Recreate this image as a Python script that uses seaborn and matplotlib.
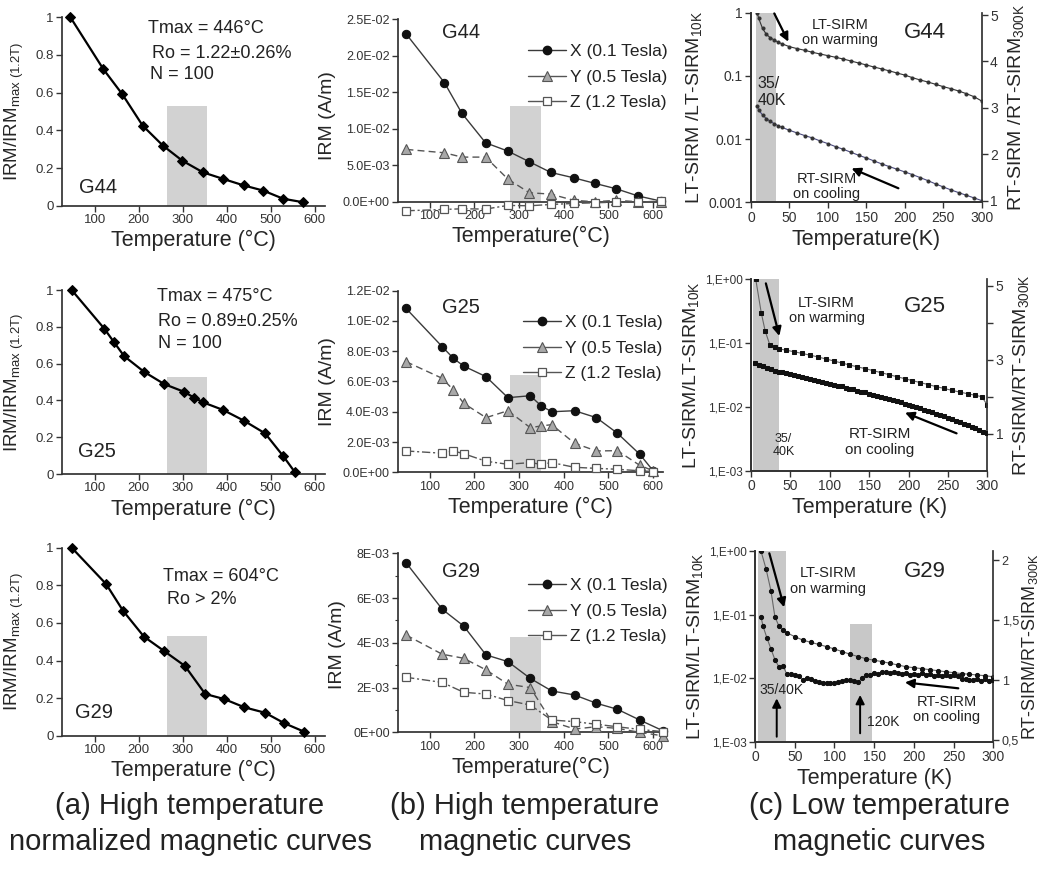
import numpy as np
import matplotlib
matplotlib.use("Agg")
import matplotlib.pyplot as plt
from matplotlib.lines import Line2D
import seaborn as sns

# ---------------- data ----------------
# column (a): normalized IRM vs temperature
g44_a_t = [45, 120, 163, 209, 255, 299, 346, 392, 438, 483, 528, 574]
g44_a_v = [1.0, 0.724, 0.591, 0.425, 0.319, 0.239, 0.177, 0.142, 0.108, 0.080, 0.037, 0.018]
g25_a_t = [48, 122, 143, 167, 212, 258, 303, 326, 347, 392, 439, 487, 528, 555]
g25_a_v = [1.0, 0.79, 0.72, 0.641, 0.556, 0.489, 0.447, 0.415, 0.389, 0.348, 0.29, 0.221, 0.098, 0.009]
g29_a_t = [48, 126, 165, 212, 258, 305, 351, 394, 440, 487, 531, 576]
g29_a_v = [1.0, 0.807, 0.663, 0.527, 0.45, 0.371, 0.222, 0.195, 0.151, 0.122, 0.066, 0.021]

# column (b): IRM components (A/m)
g44_b_t = [48, 133, 172, 225, 275, 323, 371, 422, 470, 517, 567, 617]
g44_bx = [0.0229, 0.01629, 0.0121, 0.00807, 0.00693, 0.00547, 0.00401, 0.00328, 0.00251, 0.00178, 0.00078, 0.0001]
g44_by = [0.00716, 0.0067, 0.00611, 0.00611, 0.0031, 0.00123, 0.00105, 0.0002, 0.0000, 0.0002, 0.0, 0.0]
g44_bz = [-0.00123, -0.00105, -0.00096, -0.001, -0.0005, -0.00055, -0.00037, -0.00023, -0.00014, -0.00005, -0.00005, 0.0001]

g25_b_t = [47, 128, 153, 176, 226, 275, 325, 349, 373, 424, 473, 520, 570, 600]
g25_bx = [0.01083, 0.0083, 0.00753, 0.00702, 0.00632, 0.00493, 0.00506, 0.0044, 0.004, 0.00407, 0.00361, 0.00258, 0.00119, 0.0001]
g25_by = [0.00731, 0.00621, 0.00544, 0.00456, 0.00361, 0.00407, 0.00295, 0.00306, 0.00315, 0.00192, 0.00141, 0.00143, 0.00046, 0.0001]
g25_bz = [0.00141, 0.00126, 0.00141, 0.00123, 0.00073, 0.00053, 0.00064, 0.00053, 0.00064, 0.00033, 0.00026, 0.0002, 0.0001, 0.00005]

g29_b_t = [47, 128, 176, 226, 275, 325, 373, 424, 473, 520, 570, 623]
g29_bx = [0.00758, 0.0055, 0.00475, 0.00346, 0.00316, 0.00241, 0.00185, 0.00167, 0.0013, 0.00103, 0.00055, 0.00006]
g29_by = [0.00435, 0.00349, 0.00331, 0.00279, 0.00215, 0.002, 0.00048, 0.00015, 0.00025, 0.00018, 0.0, -0.00016]
g29_bz = [0.00246, 0.00223, 0.00179, 0.00171, 0.00142, 0.00122, 0.00055, 0.00048, 0.00036, 0.00025, 0.00013, 0.00003]

series_labels = ["X (0.1 Tesla)", "Y (0.5 Tesla)", "Z (1.2 Tesla)"]

# column (c): low temperature curves
g44_lt_t = [8, 10, 15, 20, 25, 30, 35, 40, 50, 60, 70, 80, 90, 100, 110, 120, 130, 140, 150,
            160, 170, 180, 190, 200, 210, 220, 230, 240, 250, 260, 270, 280, 290, 300]
g44_lt = [1.0, 0.814, 0.565, 0.454, 0.403, 0.370, 0.344, 0.323, 0.290, 0.270, 0.254, 0.236,
          0.222, 0.209, 0.197, 0.185, 0.172, 0.160, 0.149, 0.138, 0.129, 0.120, 0.111, 0.103,
          0.0938, 0.0861, 0.0801, 0.0736, 0.0676, 0.0628, 0.0577, 0.0524, 0.0469, 0.0401]
g44_rt = [3.043, 2.957, 2.849, 2.771, 2.713, 2.663, 2.620, 2.584, 2.520, 2.462, 2.405, 2.355,
          2.290, 2.233, 2.168, 2.111, 2.047, 1.982, 1.925, 1.860, 1.796, 1.738, 1.681, 1.624,
          1.566, 1.502, 1.437, 1.366, 1.301, 1.237, 1.179, 1.122, 1.065, 1.007]

g25_lt_t = [6, 13, 18, 24, 30, 36, 45, 55, 65, 75, 85, 95, 105, 115, 125, 135, 145, 155, 165,
            175, 185, 195, 205, 215, 225, 235, 245, 255, 265, 275, 285, 293, 300]
g25_lt = [1.0, 0.298, 0.154, 0.093, 0.0877, 0.0806, 0.0770, 0.0728, 0.0686, 0.0645, 0.0605,
          0.0563, 0.0524, 0.0487, 0.0453, 0.0424, 0.0397, 0.0370, 0.0344, 0.0320, 0.0298,
          0.0277, 0.0258, 0.0240, 0.0224, 0.0208, 0.0195, 0.0182, 0.0171, 0.0161, 0.0152,
          0.0145, 0.0107]
g25_rt_t = [5, 10, 15, 20, 25, 30, 35, 40, 45, 50, 55, 60, 65, 70, 75, 80, 85, 90, 95, 100,
            105, 110, 115, 120, 125, 130, 135, 140, 145, 150, 155, 160, 165, 170, 175, 180,
            185, 190, 195, 200, 205, 210, 215, 220, 225, 230, 235, 240, 245, 250, 255, 260,
            265, 270, 275, 280, 285, 290, 295, 300]
g25_rt = [2.92, 2.86, 2.82, 2.78, 2.74, 2.71, 2.68, 2.66, 2.63, 2.61, 2.58, 2.56, 2.53, 2.51,
          2.48, 2.46, 2.43, 2.41, 2.38, 2.36, 2.33, 2.30, 2.28, 2.25, 2.22, 2.20, 2.17, 2.14,
          2.12, 2.09, 2.06, 2.03, 2.00, 1.97, 1.94, 1.91, 1.88, 1.85, 1.82, 1.79, 1.76, 1.72,
          1.69, 1.65, 1.62, 1.58, 1.55, 1.51, 1.47, 1.43, 1.39, 1.35, 1.31, 1.27, 1.23, 1.19,
          1.15, 1.10, 1.06, 1.02]

g29_lt_t = [7.5, 14, 20, 25, 30, 35, 40, 50, 60, 70, 80, 90, 100, 110, 120, 130, 140, 150,
            160, 170, 180, 190, 200, 210, 220, 230, 240, 250, 260, 270, 280, 290, 300]
g29_lt = [1.0, 0.515, 0.238, 0.0927, 0.0661, 0.0572, 0.0519, 0.0449, 0.0398, 0.0366, 0.0340,
          0.0313, 0.0287, 0.0261, 0.0237, 0.0218, 0.0202, 0.0191, 0.0182, 0.0171, 0.0161,
          0.0151, 0.0146, 0.0141, 0.0136, 0.0131, 0.0126, 0.0122, 0.0118, 0.0115, 0.0112,
          0.0109, 0.0105]
g29_rt_t = [7.5, 10, 15, 20, 25, 30, 35, 40, 45, 50, 55, 60, 65, 70, 75, 80, 85, 90, 95, 100,
            105, 110, 115, 120, 125, 130, 135, 140, 145, 150, 155, 160, 165, 170, 175, 180,
            185, 190, 195, 200, 205, 210, 215, 220, 225, 230, 235, 240, 245, 250, 255, 260,
            265, 270, 275, 280, 285, 290, 295, 300]
g29_rt = [1.528, 1.45, 1.35, 1.26, 1.17, 1.11, 1.12, 1.05, 1.05, 1.04, 1.03, 1.00, 1.02, 1.01,
          0.99, 0.98, 0.975, 0.975, 0.975, 0.975, 0.98, 0.99, 1.00, 1.00, 0.99, 0.98, 1.02,
          1.04, 1.04, 1.06, 1.05, 1.07, 1.065, 1.055, 1.07, 1.06, 1.05, 1.06, 1.045, 1.05,
          1.04, 1.055, 1.04, 1.05, 1.035, 1.045, 1.03, 1.045, 1.03, 1.04, 1.03, 1.01, 1.005,
          1.00, 1.00, 1.01, 0.995, 1.005, 0.995, 1.00]

# tick labels
a_yticks = [0, 0.2, 0.4, 0.6, 0.8, 1.0]
a_ylabels = ["0", "0.2", "0.4", "0.6", "0.8", "1"]
hi_xticks = [100, 200, 300, 400, 500, 600]
g44_b_yticks = [0, 0.005, 0.01, 0.015, 0.02, 0.025]
g44_b_ylabels = ["0.0E+00", "5.0E-03", "1.0E-02", "1.5E-02", "2.0E-02", "2.5E-02"]
g25_b_yticks = [0, 0.002, 0.004, 0.006, 0.008, 0.010, 0.012]
g25_b_ylabels = ["0.0E+00", "2.0E-03", "4.0E-03", "6.0E-03", "8.0E-03", "1.0E-02", "1.2E-02"]
g29_b_yticks = [0, 0.002, 0.004, 0.006, 0.008]
g29_b_ylabels = ["0E+00", "2E-03", "4E-03", "6E-03", "8E-03"]
lt_xticks = [0, 50, 100, 150, 200, 250, 300]
log_ticks = [0.001, 0.01, 0.1, 1]
g44_log_labels = ["0.001", "0.01", "0.1", "1"]
comma_log_labels = ["1,E-03", "1,E-02", "1,E-01", "1,E+00"]

# ---------------- style ----------------
sns.set_theme(style="ticks")
plt.rcParams["font.family"] = ["Liberation Sans", "DejaVu Sans"]
plt.rcParams["mathtext.fontset"] = "custom"
plt.rcParams["mathtext.rm"] = "Liberation Sans"
plt.rcParams["axes.edgecolor"] = "#333333"
plt.rcParams["xtick.color"] = "#333333"
plt.rcParams["ytick.color"] = "#333333"
plt.rcParams["text.color"] = "#222222"

BAND = "#d2d2d2"
fig = plt.figure(figsize=(10.41, 8.69), dpi=100)


def base_ticks(ax, size=9.5):
    ax.tick_params(axis="both", direction="out", length=4, width=1, labelsize=size, pad=2)


# ---------------- column (a) ----------------
col_a = [
    ([0.0596, 0.7633, 0.2526, 0.2168], g44_a_t, g44_a_v, "G44",
     [("Tmax = 446°C", 0.327, 0.943), ("Ro = 1.22±0.26%", 0.342, 0.810), ("N = 100", 0.335, 0.694)],
     (0.065, 0.094)),
    ([0.0596, 0.4545, 0.2526, 0.2117], g25_a_t, g25_a_v, "G25",
     [("Tmax = 475°C", 0.361, 0.964), ("Ro = 0.89±0.25%", 0.365, 0.828), ("N = 100", 0.365, 0.712)],
     (0.061, 0.121)),
    ([0.0596, 0.1534, 0.2526, 0.2163], g29_a_t, g29_a_v, "G29",
     [("Tmax = 604°C", 0.384, 0.849), ("Ro > 2%", 0.399, 0.722)],
     (0.049, 0.121)),
]
for rect, t, v, name, notes, gpos in col_a:
    ax = fig.add_axes(rect)
    ax.axvspan(265, 355, ymin=0, ymax=0.53, color=BAND, lw=0, zorder=0)
    sns.lineplot(x=t, y=v, ax=ax, color="black", lw=1.6, marker="D", markersize=5,
                 markeredgecolor="black", sort=False, estimator=None, clip_on=False, zorder=3)
    ax.set_xlim(26, 623)
    ax.set_ylim(0, 1)
    ax.set_xticks(hi_xticks)
    ax.set_yticks(a_yticks, a_ylabels)
    sns.despine(ax=ax)
    base_ticks(ax)
    ax.set_xlabel("Temperature (°C)", fontsize=15.5, labelpad=3)
    ax.set_ylabel(r"IRM/IRM$_{\mathregular{max\ (1.2T)}}$", fontsize=13.5, labelpad=7)
    for txt, x, y in notes:
        ax.text(x, y, txt, transform=ax.transAxes, fontsize=13, ha="left", va="center")
    ax.text(gpos[0], gpos[1], name, transform=ax.transAxes, fontsize=14.5, ha="left", va="center")

# ---------------- column (b) ----------------
x_style = dict(color="#3a3a3a", lw=1.0, marker="o", markersize=6,
               markerfacecolor="#111111", markeredgecolor="#111111")
y_style = dict(color="#555555", lw=1.0, marker="^", markersize=6.5,
               markerfacecolor="#a8a8a8", markeredgecolor="#555555", markeredgewidth=0.8)
z_style = dict(color="#555555", lw=1.0, marker="s", markersize=6,
               markerfacecolor="white", markeredgecolor="#555555", markeredgewidth=0.9)
legend_handles = [Line2D([], [], **x_style), Line2D([], [], **y_style), Line2D([], [], **z_style)]

col_b = [
    ([0.3823, 0.7552, 0.2546, 0.2229], g44_b_t, g44_bx, g44_by, g44_bz, "G44",
     (-0.0015, 0.025), g44_b_yticks, g44_b_ylabels, 0.0131, (0.49, 0.871), "Temperature(°C)", 0.928),
    ([0.3823, 0.4565, 0.2546, 0.2090], g25_b_t, g25_bx, g25_by, g25_bz, "G25",
     (0, 0.012), g25_b_yticks, g25_b_ylabels, 0.0064, (0.472, 0.866), "Temperature (°C)", 0.905),
    ([0.3823, 0.1521, 0.2546, 0.2112], g29_b_t, g29_bx, g29_by, g29_bz, "G29",
     (-0.0002, 0.008), g29_b_yticks, g29_b_ylabels, 0.00427, (0.49, 0.865), "Temperature(°C)", 0.90),
]
for rect, t, bx, by, bz, name, ylim, yt, yl, band_top, leg_pos, xlab, gy in col_b:
    ax = fig.add_axes(rect)
    ax.fill_between([280, 350], 0, band_top, color=BAND, lw=0, zorder=0)
    sns.lineplot(x=t, y=bx, ax=ax, sort=False, estimator=None, clip_on=False, zorder=3, **x_style)
    sns.lineplot(x=t, y=by, ax=ax, linestyle=(0, (5, 3)), sort=False, estimator=None,
                 clip_on=False, zorder=3, **y_style)
    sns.lineplot(x=t, y=bz, ax=ax, linestyle=(0, (6, 2, 1.5, 2)), sort=False, estimator=None,
                 clip_on=False, zorder=3, **z_style)
    ax.set_xlim(29, 622)
    ax.set_ylim(*ylim)
    ax.set_xticks(hi_xticks)
    ax.set_yticks(yt, yl)
    if name == "G29":
        ax.set_yticks([0.001, 0.003, 0.005, 0.007], minor=True)
        ax.tick_params(axis="y", which="minor", length=2.5, width=0.8)
    sns.despine(ax=ax)
    ax.spines["bottom"].set_position(("data", 0))
    ax.spines["left"].set_bounds(0, ylim[1])
    base_ticks(ax, 9)
    ax.set_xlabel(xlab, fontsize=15.5, labelpad=3)
    ax.set_ylabel("IRM (A/m)", fontsize=14, labelpad=5)
    ax.text(0.166, gy, name, transform=ax.transAxes, fontsize=14.5, ha="left", va="center")
    ax.legend(legend_handles, series_labels, loc="upper left", bbox_to_anchor=leg_pos,
              frameon=False, fontsize=12.5, handlelength=2.2, handletextpad=0.2,
              labelspacing=0.6, borderpad=0, borderaxespad=0)


# ---------------- column (c) ----------------
def arrow(ax, tail, head, lw=1.6):
    ax.annotate("", xy=head, xytext=tail, xycoords="axes fraction", textcoords="axes fraction",
                arrowprops=dict(arrowstyle="-|>", color="black", lw=lw, mutation_scale=13,
                                shrinkA=0, shrinkB=0))


def low_panel(rect, band, lt_t, lt, rt_t, rt, rlim, rticks, rlabels, rminor, loglabels,
              loglabsize, xlab, lsep, style, rsize=10, rfont=14, rpad=6):
    ax = fig.add_axes(rect)
    ax.axvspan(band[0], band[1], color="#c8c8c8", lw=0, zorder=0)
    sns.lineplot(x=lt_t, y=lt, ax=ax, color=style["lc"], lw=0.8, marker=style["m"],
                 markersize=style["ms"], markerfacecolor=style["mc"],
                 markeredgecolor=style["mc"], sort=False, estimator=None, zorder=3)
    ax.set_yscale("log")
    ax.set_ylim(0.001, 1)
    ax.set_xlim(0, 300)
    ax.set_xticks(lt_xticks)
    ax.set_yticks(log_ticks, loglabels)
    ax.yaxis.set_minor_locator(matplotlib.ticker.NullLocator())
    tw = ax.twinx()
    sns.lineplot(x=rt_t, y=rt, ax=tw, color=style["rc"], lw=0.8, marker=style["m"],
                 markersize=style["ms"], markerfacecolor=style["mc"],
                 markeredgecolor=style["mc"], sort=False, estimator=None, zorder=3)
    tw.set_ylim(*rlim)
    tw.set_yticks(rticks, rlabels)
    if rminor:
        tw.set_yticks(rminor, minor=True)
        tw.tick_params(axis="y", which="minor", length=4, width=1, direction="out")
    for a in (ax, tw):
        a.spines["top"].set_visible(False)
    ax.spines["right"].set_visible(False)
    base_ticks(ax, 10)
    ax.tick_params(axis="y", labelsize=loglabsize)
    tw.tick_params(axis="y", direction="out", length=4, width=1, labelsize=rsize, pad=2)
    ax.set_xlabel(xlab, fontsize=15.5, labelpad=3)
    ax.set_ylabel("LT-SIRM%s/LT-SIRM$_{\\mathregular{10K}}$" % lsep, fontsize=14, labelpad=2)
    tw.set_ylabel("RT-SIRM%s/RT-SIRM$_{\\mathregular{300K}}$" % lsep, fontsize=rfont,
                  labelpad=rpad)
    return ax, tw


# G44
ax, tw = low_panel([0.7214, 0.7672, 0.2216, 0.2182], (6.5, 32), g44_lt_t, g44_lt, g44_lt_t,
                   g44_rt, (0.97, 5.05), [1, 2, 3, 4, 5], ["1", "2", "3", "4", "5"], None,
                   g44_log_labels, 10, "Temperature(K)", " ",
                   dict(lc="#333333", rc="#4b4b7d", m="o", ms=2.2, mc="#333333"))
tw.text(0.386, 0.895, "LT-SIRM\non warming", transform=tw.transAxes, fontsize=10.5,
        ha="center", va="center", linespacing=1.1)
tw.text(0.754, 0.894, "G44", transform=tw.transAxes, fontsize=16, ha="center", va="center")
tw.text(0.029, 0.583, "35/\n40K", transform=tw.transAxes, fontsize=11.5, ha="left",
        va="center", linespacing=1.15)
tw.text(0.328, 0.081, "RT-SIRM\non cooling", transform=tw.transAxes, fontsize=10.5,
        ha="center", va="center", linespacing=1.1)
arrow(tw, (0.101, 0.996), (0.162, 0.847))
arrow(tw, (0.639, 0.074), (0.436, 0.179))

# G25
ax, tw = low_panel([0.7214, 0.458, 0.2270, 0.2210], (2, 36), g25_lt_t, g25_lt, g25_rt_t,
                   g25_rt, (0, 5.18), [1, 3, 5], ["1", "3", "5"], [2, 4],
                   comma_log_labels, 8.5, "Temperature (K)", "",
                   dict(lc="#666666", rc="#666666", m="s", ms=3, mc="#111111"))
tw.text(0.32, 0.837, "LT-SIRM\non warming", transform=tw.transAxes, fontsize=10.5,
        ha="center", va="center", linespacing=1.1)
tw.text(0.736, 0.856, "G25", transform=tw.transAxes, fontsize=16, ha="center", va="center")
tw.text(0.137, 0.132, "35/\n40K", transform=tw.transAxes, fontsize=9, ha="center",
        va="center", linespacing=1.15)
tw.text(0.546, 0.151, "RT-SIRM\non cooling", transform=tw.transAxes, fontsize=11,
        ha="center", va="center", linespacing=1.1)
arrow(tw, (0.063, 0.977), (0.12, 0.703))
arrow(tw, (0.87, 0.196), (0.652, 0.304))

# G29
ax, tw = low_panel([0.7253, 0.1465, 0.2289, 0.2194], (4, 38.5), g29_lt_t, g29_lt, g29_rt_t,
                   g29_rt, (0.486, 2.075), [0.5, 1, 1.5, 2], ["0,5", "1", "1,5", "2"], None,
                   comma_log_labels, 8.5, "Temperature (K)", "",
                   dict(lc="#666666", rc="#666666", m="o", ms=3, mc="#111111"),
                   rsize=9, rfont=13, rpad=1)
ax.axvspan(120, 147, ymin=0, ymax=0.617, color="#c8c8c8", lw=0, zorder=0)
tw.text(0.308, 0.843, "LT-SIRM\non warming", transform=tw.transAxes, fontsize=10.5,
        ha="center", va="center", linespacing=1.1)
tw.text(0.713, 0.892, "G29", transform=tw.transAxes, fontsize=16, ha="center", va="center")
tw.text(0.112, 0.271, "35/40K", transform=tw.transAxes, fontsize=10, ha="center", va="center")
tw.text(0.469, 0.105, "120K", transform=tw.transAxes, fontsize=10, ha="left", va="center")
tw.text(0.804, 0.171, "RT-SIRM\non cooling", transform=tw.transAxes, fontsize=10.5,
        ha="center", va="center", linespacing=1.1)
arrow(tw, (0.06, 0.988), (0.122, 0.705))
arrow(tw, (0.853, 0.28), (0.629, 0.311))
arrow(tw, (0.091, 0.026), (0.091, 0.227), lw=1.4)
arrow(tw, (0.441, 0.044), (0.441, 0.245), lw=1.4)

# ---------------- captions ----------------
captions = [(0.1825, "(a) High temperature", "normalized magnetic curves"),
            (0.5043, "(b) High temperature", "magnetic curves"),
            (0.8444, "(c) Low temperature", "magnetic curves")]
for x, l1, l2 in captions:
    fig.text(x, 1 - 806 / 869, l1, ha="center", va="center", fontsize=21)
    fig.text(x, 1 - 842 / 869, l2, ha="center", va="center", fontsize=21)

fig.savefig("out.png", dpi=100)
